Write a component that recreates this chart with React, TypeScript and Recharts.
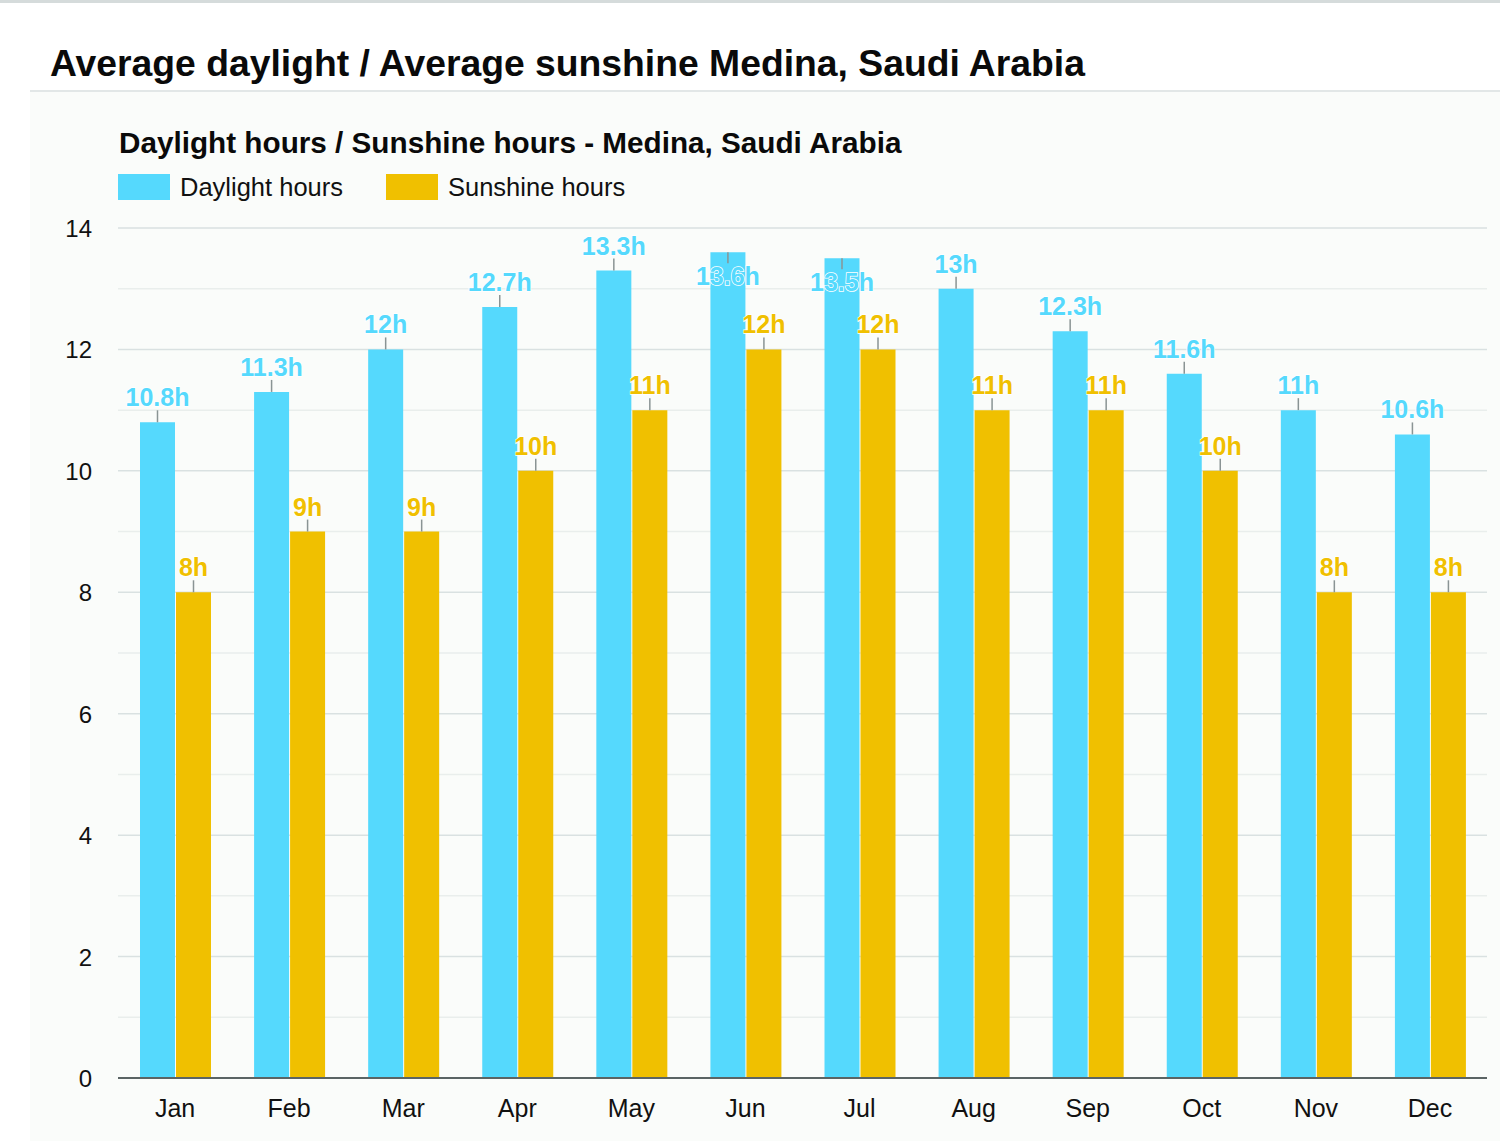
import React from 'react';
import { BarChart, Bar, XAxis, YAxis, CartesianGrid, LabelList } from 'recharts';

const months = ['Jan', 'Feb', 'Mar', 'Apr', 'May', 'Jun', 'Jul', 'Aug', 'Sep', 'Oct', 'Nov', 'Dec'];
const daylightHours = [10.8, 11.3, 12, 12.7, 13.3, 13.6, 13.5, 13, 12.3, 11.6, 11, 10.6];
const sunshineHours = [8, 9, 9, 10, 11, 12, 12, 11, 11, 10, 8, 8];
const majorTicks = [0, 2, 4, 6, 8, 10, 12, 14];
const minorTicks = [1, 3, 5, 7, 9, 11, 13];
const yDomain = [0, 14];

const data = months.map((m, i) => ({ month: m, daylight: daylightHours[i], sunshine: sunshineHours[i] }));

const FONT = '"Liberation Sans", Arial, Helvetica, sans-serif';
const CYAN = '#55d9fd';
const GOLD = '#f0c000';
const PLOT_TOP = 228;

const makeLabel = (color: string) => (props: any) => {
  const x = Number(props.x);
  const y = Number(props.y);
  const w = Number(props.width);
  const cx = x + w / 2;
  const inside = y - 36 < PLOT_TOP;
  const text = `${props.value}h`;
  return (
    <g>
      <line x1={cx} x2={cx} y1={inside ? y : y - 12} y2={inside ? y + 11 : y} stroke="#8a9494" strokeWidth={1.5} />
      <text
        x={cx}
        y={inside ? y + 33 : y - 16}
        textAnchor="middle"
        fill={color}
        stroke="#ffffff"
        strokeWidth={1.5}
        paintOrder="stroke"
        style={{ fontFamily: FONT, fontSize: 25, fontWeight: 700 }}
      >
        {text}
      </text>
    </g>
  );
};

const YTick = (props: any) => {
  const { x, y, payload } = props;
  return (
    <text x={x} y={y} dy={9} textAnchor="end" fill="#111" style={{ fontFamily: FONT, fontSize: 24 }}>
      {payload.value}
    </text>
  );
};

const XTick = (props: any) => {
  const { x, y, payload } = props;
  return (
    <text x={x} y={y} dy={31} textAnchor="middle" fill="#111" style={{ fontFamily: FONT, fontSize: 25 }}>
      {payload.value}
    </text>
  );
};

const minorGen = (args: any) => {
  const yAxis = args && args.yAxis;
  if (yAxis && typeof yAxis.scale === 'function') {
    const v = minorTicks.map((t) => yAxis.scale(t));
    if (v.every((n) => Number.isFinite(n))) return v;
  }
  const off = args && args.offset;
  if (off) {
    return minorTicks.map((t) => off.top + off.height * (1 - (t - yDomain[0]) / (yDomain[1] - yDomain[0])));
  }
  return [];
};

export default function App() {
  return (
    <div style={{ position: 'absolute', left: 0, top: 0, width: 1500, height: 1141, background: '#ffffff', overflow: 'hidden' }}>
      <svg width={1500} height={1141} style={{ position: 'absolute', left: 0, top: 0 }}>
        <rect x={0} y={0} width={1500} height={3} fill="#d5dbdb" />
        <rect x={30} y={92} width={1470} height={1049} fill="#fafcfa" />
        <line x1={30} x2={1500} y1={91} y2={91} stroke="#e2e7e7" strokeWidth={2} />
        <text x={50} y={76} fill="#0a0a0a" style={{ fontFamily: FONT, fontSize: 37.3, fontWeight: 700 }}>
          Average daylight / Average sunshine Medina, Saudi Arabia
        </text>
        <text x={119} y={153} fill="#0a0a0a" style={{ fontFamily: FONT, fontSize: 29.7, fontWeight: 700 }}>
          Daylight hours / Sunshine hours - Medina, Saudi Arabia
        </text>
        <rect x={118} y={174} width={52} height={26} fill={CYAN} />
        <text x={180} y={196} fill="#111" style={{ fontFamily: FONT, fontSize: 25.5 }}>
          Daylight hours
        </text>
        <rect x={386} y={174} width={52} height={26} fill={GOLD} />
        <text x={448} y={196} fill="#111" style={{ fontFamily: FONT, fontSize: 25.5 }}>
          Sunshine hours
        </text>
      </svg>
      <div style={{ position: 'absolute', left: 0, top: 0 }}>
        <BarChart
          width={1500}
          height={1141}
          data={data}
          margin={{ top: 228, right: 13, bottom: 13, left: 58 }}
          barSize={35}
          barGap={1}
        >
          <CartesianGrid vertical={false} stroke="#e9eeec" strokeWidth={1.5} horizontalCoordinatesGenerator={minorGen} />
          <CartesianGrid vertical={false} stroke="#d9e1e1" strokeWidth={1.5} />
          <XAxis
            dataKey="month"
            axisLine={{ stroke: '#5a6464', strokeWidth: 2 }}
            tickLine={false}
            tick={<XTick />}
            height={50}
            interval={0}
          />
          <YAxis
            domain={yDomain}
            ticks={majorTicks}
            axisLine={false}
            tickLine={false}
            tickSize={0}
            tickMargin={26}
            width={60}
            tick={<YTick />}
            interval={0}
          />
          <Bar dataKey="daylight" fill={CYAN} isAnimationActive={false}>
            <LabelList dataKey="daylight" content={makeLabel(CYAN)} />
          </Bar>
          <Bar dataKey="sunshine" fill={GOLD} isAnimationActive={false}>
            <LabelList dataKey="sunshine" content={makeLabel(GOLD)} />
          </Bar>
        </BarChart>
      </div>
    </div>
  );
}
